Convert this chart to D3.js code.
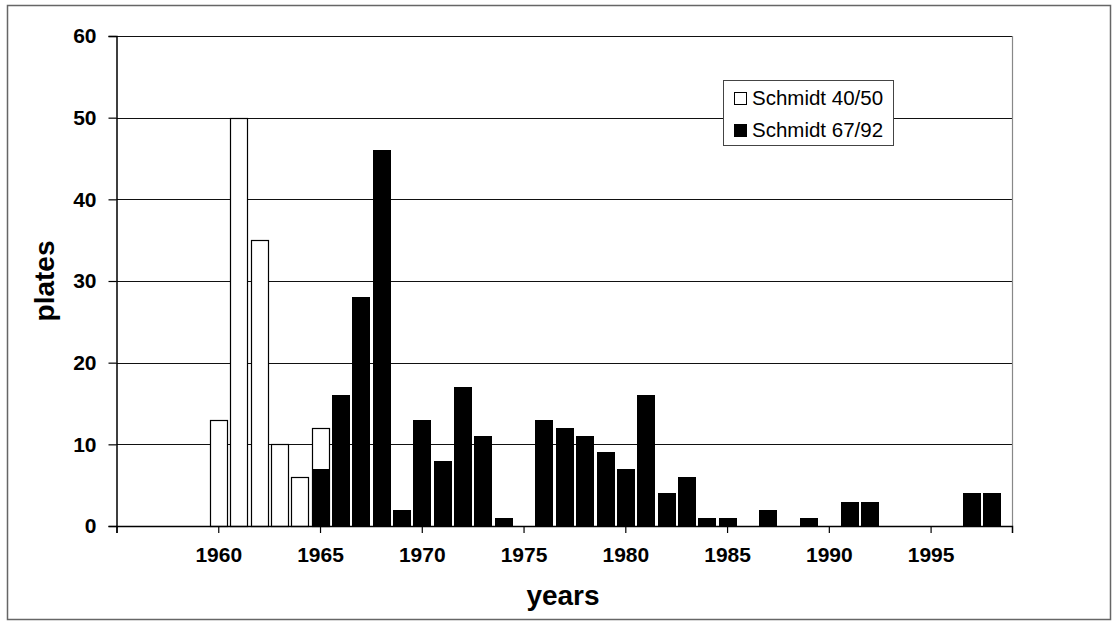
<!DOCTYPE html>
<html>
<head>
<meta charset="utf-8">
<script src="https://cdn.jsdelivr.net/npm/d3@7"></script>
<style>
  html, body { margin: 0; padding: 0; background: #fff; }
  svg { display: block; font-family: Arial, "Liberation Sans", sans-serif; }
</style>
</head>
<body>
<svg id="chart" width="1113" height="622"></svg>
<script>
// ---- data ----
const years40 = [1960, 1961, 1962, 1963, 1964, 1965];
const plates40 = [13, 50, 35, 10, 6, 12];

const years67 = [1965, 1966, 1967, 1968, 1969, 1970, 1971, 1972, 1973, 1974,
                 1976, 1977, 1978, 1979, 1980, 1981, 1982, 1983, 1984, 1985,
                 1987, 1989, 1991, 1992, 1997, 1998];
const plates67 = [7, 16, 28, 46, 2, 13, 8, 17, 11, 1,
                  13, 12, 11, 9, 7, 16, 4, 6, 1, 1,
                  2, 1, 3, 3, 4, 4];

const yTicks = [0, 10, 20, 30, 40, 50, 60];
const xTickLabels = [1960, 1965, 1970, 1975, 1980, 1985, 1990, 1995];
const xTickMarks = [1955, 1960, 1965, 1970, 1975, 1980, 1985, 1990, 1995];
const seriesNames = ["Schmidt 40/50", "Schmidt 67/92"];

// ---- layout ----
const svg = d3.select("#chart");
const L = 116.5, R = 1012, T = 36, B = 526;

const x = d3.scaleLinear().domain([1955, 1999]).range([L, R]);
const y = d3.scaleLinear().domain([0, 60]).range([B, T]);
const bw = (x(1956) - x(1955)) * 0.83;

// outer frame
svg.append("rect").attr("x", 7.5).attr("y", 5.5).attr("width", 1103).attr("height", 614)
  .attr("fill", "#fff").attr("stroke", "#666").attr("stroke-width", 1.5);

// gridlines
svg.append("g").selectAll("line").data(yTicks.filter(d => d > 0)).join("line")
  .attr("x1", L).attr("x2", R)
  .attr("y1", d => Math.round(y(d)) + 0.5).attr("y2", d => Math.round(y(d)) + 0.5)
  .attr("stroke", "#111").attr("stroke-width", 1.2);

// right plot border
svg.append("line").attr("x1", R + 0.5).attr("x2", R + 0.5).attr("y1", T).attr("y2", B)
  .attr("stroke", "#888").attr("stroke-width", 1.2);

// bars: Schmidt 40/50 (white)
const d40 = years40.map((yr, i) => ({yr, v: plates40[i]}));
svg.append("g").selectAll("rect").data(d40).join("rect")
  .attr("x", d => Math.round(x(d.yr) - bw / 2) + 0.5)
  .attr("y", d => Math.round(y(d.v)) + 0.5)
  .attr("width", Math.round(bw))
  .attr("height", d => Math.round(y(0)) - Math.round(y(d.v)))
  .attr("fill", "#fff").attr("stroke", "#000").attr("stroke-width", 1.2);

// bars: Schmidt 67/92 (black)
const d67 = years67.map((yr, i) => ({yr, v: plates67[i]}));
svg.append("g").selectAll("rect").data(d67).join("rect")
  .attr("x", d => Math.round(x(d.yr) - bw / 2) + 0.5)
  .attr("y", d => Math.round(y(d.v)) + 0.5)
  .attr("width", Math.round(bw))
  .attr("height", d => Math.round(y(0)) - Math.round(y(d.v)))
  .attr("fill", "#000").attr("stroke", "#000").attr("stroke-width", 1);

// y axis
const yAxis = d3.axisLeft(y).tickValues(yTicks).tickSize(8).tickPadding(12).tickFormat(d3.format("d"));
const gy = svg.append("g").attr("transform", `translate(${L},0)`).call(yAxis);
gy.select(".domain").attr("stroke", "#000").attr("stroke-width", 1.5);
gy.selectAll(".tick line").attr("stroke", "#000").attr("stroke-width", 1.2);
gy.selectAll("text").attr("font-size", 21).attr("font-weight", "bold")
  .attr("fill", "#000").attr("font-family", "Arial, 'Liberation Sans', sans-serif");

// x axis
const xAxis = d3.axisBottom(x).tickValues(xTickMarks).tickSize(7).tickPadding(14)
  .tickFormat(d => xTickLabels.includes(d) ? String(d) : "");
const gx = svg.append("g").attr("transform", `translate(0,${B})`).call(xAxis);
gx.select(".domain").attr("stroke", "#000").attr("stroke-width", 1.5);
gx.selectAll(".tick line").attr("stroke", "#000").attr("stroke-width", 1.2);
gx.selectAll("text").attr("font-size", 21).attr("font-weight", "bold")
  .attr("fill", "#000").attr("font-family", "Arial, 'Liberation Sans', sans-serif");

// axis titles
svg.append("text").attr("x", 563).attr("y", 605).attr("text-anchor", "middle")
  .attr("font-size", 28).attr("font-weight", "bold").text("years");
svg.append("text").attr("transform", "translate(54,281) rotate(-90)").attr("text-anchor", "middle")
  .attr("font-size", 28).attr("font-weight", "bold").text("plates");

// legend
const lg = svg.append("g");
lg.append("rect").attr("x", 723.5).attr("y", 80.5).attr("width", 170).attr("height", 65)
  .attr("fill", "#fff").attr("stroke", "#444").attr("stroke-width", 1);
const fills = ["#fff", "#000"];
seriesNames.forEach((name, i) => {
  const yy = 92 + i * 32;
  lg.append("rect").attr("x", 734.5).attr("y", yy + 0.5).attr("width", 12).attr("height", 12)
    .attr("fill", fills[i]).attr("stroke", "#000").attr("stroke-width", 1);
  lg.append("text").attr("x", 752).attr("y", yy + 13).attr("font-size", 20.5).text(name);
});
</script>
</body>
</html>
